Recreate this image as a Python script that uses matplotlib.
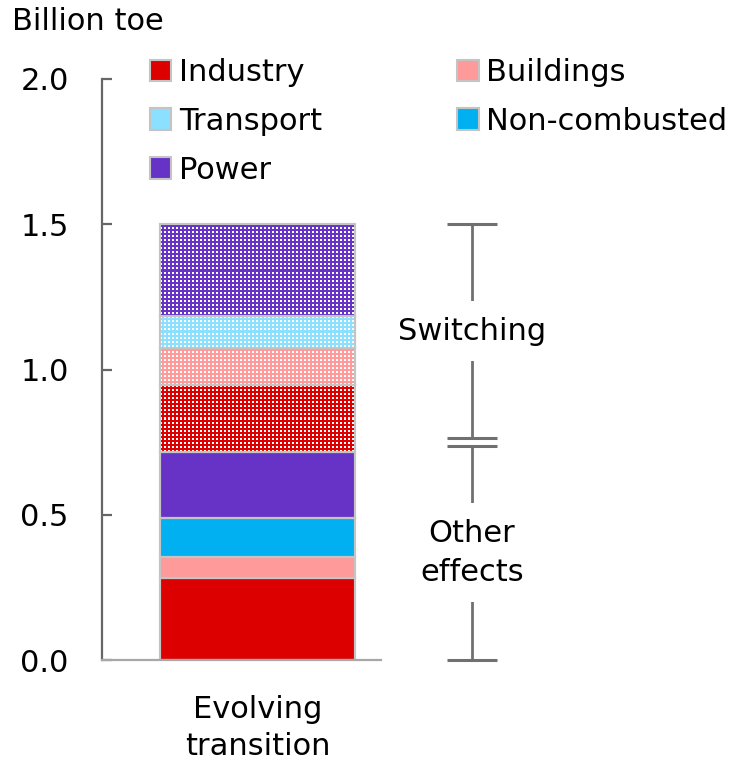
import matplotlib.pyplot as plt
import numpy as np
from matplotlib.patches import Patch
from matplotlib.colors import to_rgb

# stacked segments of the single bar, bottom to top
segments = ['Industry', 'Buildings', 'Non-combusted', 'Power',
            'Industry', 'Buildings', 'Transport', 'Power']
values = [0.283, 0.070, 0.137, 0.227, 0.228, 0.130, 0.108, 0.317]
hatched = [False, False, False, False, True, True, True, True]

colors = {'Industry': '#dc0000', 'Buildings': '#ff9a9a', 'Transport': '#8ce0ff',
          'Non-combusted': '#00b0f0', 'Power': '#6633c6'}
legend_order = ['Industry', 'Transport', 'Power', 'Buildings', 'Non-combusted']

scenario = 'Evolving\ntransition'
yticks = [0.0, 0.5, 1.0, 1.5, 2.0]

# right-hand brackets: (label, bottom, top)
brackets = [('Other\neffects', 0.0, 0.738), ('Switching', 0.765, 1.5)]

plt.rcParams['font.family'] = ['DejaVu Sans']
plt.rcParams['font.size'] = 22

W, H = 753, 761
fig = plt.figure(figsize=(W / 100, H / 100), dpi=100)
ax = fig.add_axes([102 / W, 101 / H, (W - 102) / W, 581 / H])
ax.set_xlim(-0.56, 1.777)
ax.set_ylim(0, 2.0)

# small dotted tile used for the "switching" part of the bar (True = white)
tile = np.array([[1, 1, 0, 0],
                 [1, 1, 0, 0],
                 [0, 0, 0, 0],
                 [0, 0, 0, 0]], dtype=bool)

edge = '#c4c4c4'
bottoms = np.concatenate([[0], np.cumsum(values)[:-1]])
bar_w = 0.7
for seg, v, b, h in zip(segments, values, bottoms, hatched):
    c = colors[seg]
    bars = ax.bar(0, v, bar_w, bottom=b, color='white' if h else c,
                  edgecolor=edge, linewidth=1.5, zorder=1)
    if h:
        p = bars[0]
        x0, y0 = p.get_x(), p.get_y()
        x1, y1 = x0 + p.get_width(), y0 + p.get_height()
        (px0, py0), (px1, py1) = ax.transData.transform([(x0, y0), (x1, y1)])
        nx = max(int(round(px1 - px0)), 1)
        ny = max(int(round(py1 - py0)), 1)
        mask = np.tile(tile, (ny // 4 + 1, nx // 4 + 1))[:ny, :nx]
        img = np.empty((ny, nx, 3))
        img[:] = to_rgb(c)
        img[mask] = 1.0
        im = ax.imshow(img, extent=(x0, x1, y0, y1), interpolation='nearest',
                       aspect='auto', zorder=2)
        im.set_clip_path(p)
    ax.bar(0, v, bar_w, bottom=b, fill=False, edgecolor=edge,
           linewidth=1.5, zorder=3)

# axes styling
for s in ['top', 'right', 'bottom']:
    ax.spines[s].set_visible(False)
ax.spines['left'].set_color('#666666')
ax.spines['left'].set_linewidth(1.6)
ax.plot([-0.56, 0.441], [0, 0], color='#a8a8a8', lw=1.6, clip_on=False, zorder=4)

ax.set_yticks(yticks)
ax.set_yticklabels([f'{t:.1f}' for t in yticks])
ax.tick_params(axis='y', direction='in', length=7, width=1.6, color='#666666', pad=24)
ax.set_xticks([0])
ax.set_xticklabels([scenario], linespacing=1.38)
ax.tick_params(axis='x', length=0, pad=25)

# brackets
bx, cap = 0.768, 0.09
gray = '#707070'
for label, lo, hi in brackets:
    ax.vlines(bx, lo, hi, color=gray, lw=2, zorder=2, clip_on=False)
    ax.hlines([lo, hi], bx - cap, bx + cap, color=gray, lw=2.2, zorder=2,
              clip_on=False)
    ax.text(bx, (lo + hi) / 2, label, ha='center', va='center', zorder=3,
            linespacing=1.45,
            bbox=dict(boxstyle='square,pad=0.5', fc='white', ec='none'))

fig.text(12 / W, 1 - 22 / H, 'Billion toe', ha='left', va='center')

handles = [Patch(facecolor=colors[n], edgecolor=edge, linewidth=1.5, label=n)
           for n in legend_order]
ax.legend(handles=handles, ncol=2, loc='upper left',
          bbox_to_anchor=(150 / W, 1 - 58 / H), bbox_transform=fig.transFigure,
          frameon=False, borderpad=0, borderaxespad=0, handlelength=0.7,
          handleheight=0.7, handletextpad=0.25, columnspacing=4.42,
          labelspacing=0.65)

fig.savefig('out.png', dpi=100)
